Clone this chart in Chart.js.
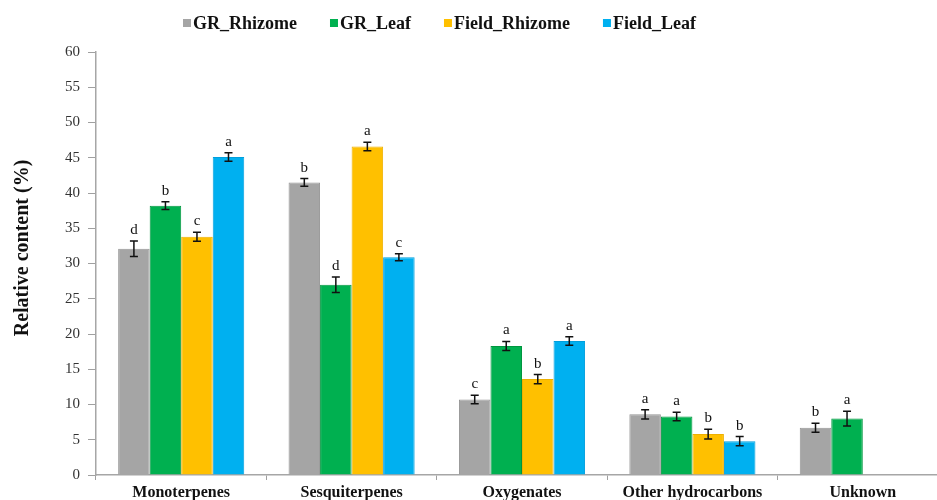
<!DOCTYPE html>
<html>
<head>
<meta charset="utf-8">
<script src="https://cdn.jsdelivr.net/npm/chart.js@4/dist/chart.umd.min.js"></script>
<style>
  html, body { margin: 0; padding: 0; background: #ffffff; overflow: hidden; }
  #wrap { position: relative; width: 949px; height: 500px; }
</style>
</head>
<body>
<div id="wrap"><canvas id="chart"></canvas></div>
<script>
// Compound classes on the x axis
const categories = ['Monoterpenes', 'Sesquiterpenes', 'Oxygenates', 'Other hydrocarbons', 'Unknown'];

// Series names
const seriesNames = ['GR_Rhizome', 'GR_Leaf', 'Field_Rhizome', 'Field_Leaf'];

// Relative content (%) per series
const grRhizome    = [32.1, 41.5, 10.7, 8.6, 6.7];
const grLeaf       = [38.2, 27.0, 18.3, 8.3, 8.0];
const fieldRhizome = [33.8, 46.6, 13.6, 5.8, null];
const fieldLeaf    = [45.1, 30.9, 19.0, 4.8, null];

// Standard errors
const grRhizomeErr    = [1.1, 0.55, 0.6, 0.65, 0.65];
const grLeafErr       = [0.55, 1.1, 0.65, 0.6, 1.05];
const fieldRhizomeErr = [0.65, 0.6, 0.65, 0.7, null];
const fieldLeafErr    = [0.6, 0.5, 0.6, 0.65, null];

// Significance letters
const grRhizomeSig    = ['d', 'b', 'c', 'a', 'b'];
const grLeafSig       = ['b', 'd', 'a', 'a', 'a'];
const fieldRhizomeSig = ['c', 'a', 'b', 'b', null];
const fieldLeafSig    = ['a', 'c', 'a', 'b', null];

// Y axis ticks
const yTicks = [0, 5, 10, 15, 20, 25, 30, 35, 40, 45, 50, 55, 60];
const yTitle = 'Relative content (%)';

const fills   = ['#a5a5a5', '#00b050', '#ffc000', '#00b0f0'];
const borders = ['#959595', '#00963f', '#eeb000', '#009fdd'];

const values = [grRhizome, grLeaf, fieldRhizome, fieldLeaf];
const errors = [grRhizomeErr, grLeafErr, fieldRhizomeErr, fieldLeafErr];
const letters = [grRhizomeSig, grLeafSig, fieldRhizomeSig, fieldLeafSig];

const SERIF = '"Liberation Serif", "Times New Roman", serif';

// Error bars with significance letters above them
const errorBarPlugin = {
  id: 'errorBars',
  afterDatasetsDraw(chart) {
    const ctx = chart.ctx;
    const y = chart.scales.y;
    ctx.save();
    chart.data.datasets.forEach((ds, i) => {
      const meta = chart.getDatasetMeta(i);
      ds.data.forEach((v, j) => {
        if (v === null || v === undefined) return;
        const e = ds.errors[j] || 0;
        const x = meta.data[j].x;
        const yt = y.getPixelForValue(v + e);
        const yb = y.getPixelForValue(v - e);
        ctx.strokeStyle = '#111111';
        ctx.lineWidth = 1.5;
        ctx.beginPath();
        ctx.moveTo(x, yt); ctx.lineTo(x, yb);
        ctx.moveTo(x - 4, yt); ctx.lineTo(x + 4, yt);
        ctx.moveTo(x - 4, yb); ctx.lineTo(x + 4, yb);
        ctx.stroke();
        const s = ds.letters[j];
        if (s) {
          ctx.fillStyle = '#111111';
          ctx.font = '15px ' + SERIF;
          ctx.textAlign = 'center';
          ctx.textBaseline = 'alphabetic';
          ctx.fillText(s, x, yt - 7);
        }
      });
    });
    ctx.restore();
  }
};

// Legend row across the top and the rotated y axis title
const annotationsPlugin = {
  id: 'legendRow',
  afterDraw(chart) {
    const ctx = chart.ctx;
    ctx.save();
    ctx.font = 'bold 18px ' + SERIF;
    ctx.textBaseline = 'middle';
    ctx.textAlign = 'left';
    let x = 183;
    const cy = 23;
    const gap = 33;
    chart.data.datasets.forEach((ds) => {
      ctx.fillStyle = ds.backgroundColor;
      ctx.fillRect(x, cy - 4, 8, 8);
      ctx.fillStyle = '#111111';
      ctx.fillText(ds.label, x + 10, cy + 1);
      x += 10 + ctx.measureText(ds.label).width + gap;
    });
    ctx.restore();

    ctx.save();
    ctx.translate(23, 248);
    ctx.rotate(-Math.PI / 2);
    ctx.font = 'bold 20px ' + SERIF;
    ctx.fillStyle = '#111111';
    ctx.textAlign = 'center';
    ctx.textBaseline = 'middle';
    ctx.fillText(yTitle, 0, 0);
    ctx.restore();
  }
};

new Chart(document.getElementById('chart'), {
  type: 'bar',
  data: {
    labels: categories,
    datasets: seriesNames.map((name, i) => ({
      label: name,
      data: values[i],
      errors: errors[i],
      letters: letters[i],
      backgroundColor: fills[i],
      borderColor: borders[i],
      borderWidth: 1,
      categoryPercentage: 0.74,
      barPercentage: 1.0
    }))
  },
  options: {
    responsive: true,
    maintainAspectRatio: false,
    animation: false,
    layout: { padding: { top: 52, right: 1, bottom: 0, left: 0 } },
    plugins: {
      legend: { display: false },
      tooltip: { enabled: false }
    },
    scales: {
      x: {
        grid: { display: true, offset: true, drawOnChartArea: false, drawTicks: true, tickLength: 5, color: '#a0a0a0' },
        border: { display: true, color: '#a6a6a6', width: 1.5 },
        ticks: { font: { family: SERIF, size: 16, weight: 'bold' }, color: '#111111', padding: 3, maxRotation: 0 },
        afterFit(scale) { scale.height = 25; }
      },
      y: {
        min: 0,
        max: 60,
        afterBuildTicks(scale) { scale.ticks = yTicks.map(v => ({ value: v })); },
        grid: { display: true, drawOnChartArea: false, drawTicks: true, tickLength: 8, color: '#a0a0a0' },
        border: { display: true, color: '#a6a6a6', width: 1.5 },
        ticks: { font: { family: SERIF, size: 15 }, color: '#333333', padding: 8 },
        afterFit(scale) { scale.width = 96; }
      }
    }
  },
  plugins: [errorBarPlugin, annotationsPlugin]
});
</script>
</body>
</html>
